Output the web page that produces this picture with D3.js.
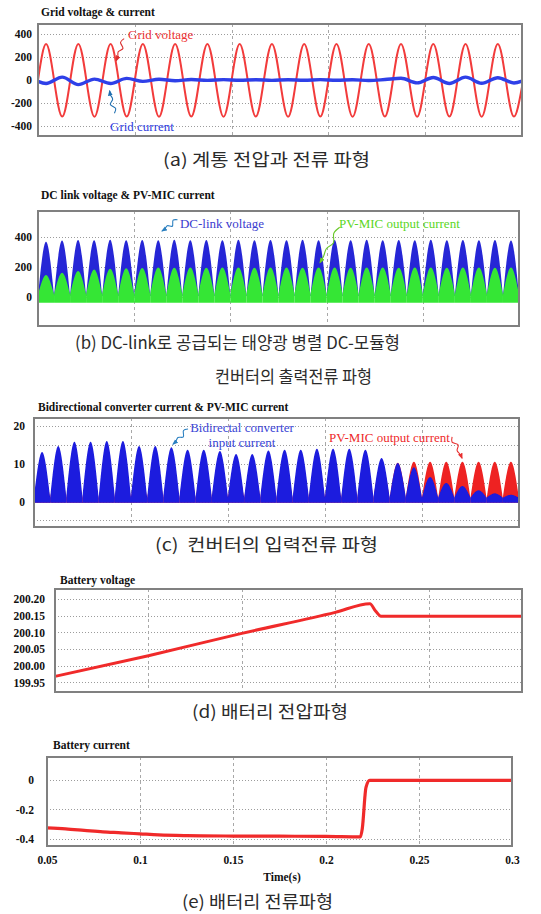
<!DOCTYPE html>
<html>
<head>
<meta charset="utf-8">
<script src="https://cdn.jsdelivr.net/npm/d3@7"></script>
<style>
  body { margin: 0; background: #fff; }
  svg { display: block; }
  .title { font-family: "Liberation Serif", "Times New Roman", serif; font-weight: bold; font-size: 11.5px; fill: #111; }
  .tick text { font-family: "Liberation Serif", "Times New Roman", serif; font-weight: bold; font-size: 11.5px; fill: #111; }
  .cap { font-family: "Noto Sans CJK KR", sans-serif; font-size: 17px; fill: #2b2b2b; }
  .note { font-family: "Liberation Serif", "Times New Roman", serif; font-size: 13px; }
</style>
</head>
<body>
<svg id="chart" width="541" height="914"></svg>
<script>
// ---------------- data ----------------
const tRange = [0.05, 0.3];
const timeTicks = [0.05, 0.1, 0.15, 0.2, 0.25, 0.3];
const lineFreq = 60;   // grid frequency, Hz

// (a) grid voltage and current: value at each half-cycle extremum, plus the two end values
const gridVoltageExtrema = [312, -318, 314, -320, 313, -318, 314, -320, 312, -318,
                            314, -320, 313, -318, 314, -320, 312, -318, 314, -320,
                            313, -318, 314, -320, 312, -318, 314, -320, 313, -318];
const gridVoltageEnds = [0, -60];
const gridCurrentExtrema = [-30, 25, -40, 8, -30, 14, -12, 6, -6, 4,
                            -3, 3, -2, 2, -3, 2, -2, 3, -2, 2,
                            -4, 4, 15, -25, 22, -30, 25, -28, 20, -26];
const gridCurrentEnds = [-12, -10];
const gridTicks = [400, 200, 0, -200, -400];

// (b) DC-link voltage and PV-MIC output current: peak of each rectified hump
const dcLinkPeaks = [368, 376, 380, 378, 381, 378, 380, 379, 381, 378,
                     380, 379, 381, 378, 380, 379, 381, 378, 380, 379,
                     381, 378, 380, 379, 381, 378, 380, 379, 380, 377];
const dcLinkValley = 6;
const pvMicPeaksB = [147, 162, 173, 184, 188, 191, 194, 196, 195, 196,
                     195, 197, 196, 195, 197, 196, 195, 197, 196, 195,
                     197, 196, 195, 197, 196, 195, 197, 196, 195, 196];
const pvMicValleyB = 15;
const pvMicFloorB = -38;
const dcTicks = [400, 200, 0];

// (c) bidirectional converter input current and PV-MIC output current
const bidirPeaks = [13.1, 14.7, 15.8, 15.8, 16.0, 16.0, 14.7, 14.7, 14.4, 13.7,
                    13.7, 13.4, 12.6, 12.6, 13.5, 13.7, 13.7, 14.0, 14.0, 14.0,
                    13.7, 11.5, 10.2, 9.1, 6.5, 4.9, 4.1, 3.0, 2.2, 1.8];
const bidirValley = 1.0;
const pvMicPeaksC = [10.0, 10.0, 10.0, 10.0, 10.0, 10.0, 10.0, 10.0, 10.0, 10.0,
                     10.0, 10.0, 10.0, 10.0, 10.0, 10.0, 10.0, 10.0, 10.0, 10.0,
                     10.0, 10.0, 10.3, 10.5, 10.5, 10.5, 10.5, 10.5, 10.5, 10.5];
const pvMicValleyC = 0.8;
const convFloor = -0.3;
const convTicks = [20, 10, 0];
const convGrid = [20, 15, 10, 5, 0, -5];

// (d) battery voltage
const battVoltT = [0.05, 0.1, 0.15, 0.2, 0.2186, 0.2215, 0.2245, 0.3];
const battVoltV = [199.968, 200.030, 200.097, 200.160, 200.186, 200.165, 200.148, 200.148];
const battVoltTicks = [200.20, 200.15, 200.10, 200.05, 200.00, 199.95];

// (e) battery current
const battCurT = [0.05, 0.06, 0.07, 0.08, 0.09, 0.1, 0.11, 0.125, 0.15, 0.175, 0.2, 0.2185, 0.2195, 0.2215, 0.2235, 0.3];
const battCurV = [-0.325, -0.332, -0.342, -0.352, -0.358, -0.365, -0.372, -0.377, -0.380, -0.381, -0.382, -0.385, -0.33, -0.05, -0.003, -0.003];
const battCurTicks = [0, -0.2, -0.4];

// ---------------- drawing ----------------
const svg = d3.select("#chart");
const defs = svg.append("defs");
defs.append("filter").attr("id", "soft").attr("x", "-5%").attr("y", "-5%").attr("width", "110%").attr("height", "110%")
  .append("feGaussianBlur").attr("stdDeviation", 0.5);
defs.append("filter").attr("id", "soft2").attr("x", "-5%").attr("y", "-20%").attr("width", "110%").attr("height", "140%")
  .append("feGaussianBlur").attr("stdDeviation", 0.6);

let clipCount = 0;
function makePanel(cfg) {
  const x = d3.scaleLinear().domain(tRange).range([cfg.l, cfg.r]);
  const y = d3.scaleLinear().domain(cfg.yDomain).range([cfg.b, cfg.t]);
  const g = svg.append("g");
  const id = "clip" + (clipCount++);
  defs.append("clipPath").attr("id", id).append("rect")
    .attr("x", cfg.l).attr("y", cfg.t).attr("width", cfg.r - cfg.l).attr("height", cfg.b - cfg.t);

  const grid = g.append("g");
  grid.selectAll("line.h").data(cfg.hGrid).join("line").attr("class", "h")
    .attr("x1", cfg.l).attr("x2", cfg.r)
    .attr("y1", d => Math.round(y(d)) + 0.5).attr("y2", d => Math.round(y(d)) + 0.5)
    .attr("stroke", "#9c9c9c").attr("stroke-width", 1).attr("stroke-dasharray", "1,2");
  grid.selectAll("line.v").data(timeTicks.slice(1, -1)).join("line").attr("class", "v")
    .attr("x1", d => Math.round(x(d)) + 0.5).attr("x2", d => Math.round(x(d)) + 0.5)
    .attr("y1", cfg.t).attr("y2", cfg.b)
    .attr("stroke", "#a8a8a8").attr("stroke-width", 1).attr("stroke-dasharray", "3,3");

  const plot = g.append("g").attr("clip-path", `url(#${id})`);
  g.append("rect")
    .attr("x", cfg.l).attr("y", cfg.t).attr("width", cfg.r - cfg.l).attr("height", cfg.b - cfg.t)
    .attr("fill", "none").attr("stroke", "#808080").attr("stroke-width", 2);

  const ax = g.append("g").attr("transform", `translate(${cfg.l},0)`)
    .call(d3.axisLeft(y).tickValues(cfg.ticks).tickSize(0).tickPadding(cfg.pad).tickFormat(cfg.fmt || (d => String(d))))
    .call(a => a.select(".domain").remove());
  ax.attr("font-family", null).attr("font-size", null);

  g.append("text").attr("class", "title").attr("x", cfg.titleX).attr("y", cfg.titleY).text(cfg.title);
  const notes = g.append("g");
  return { x, y, plot, notes };
}

// half-cycle extremum points of a 60 Hz waveform
function extremaPoints(vals, ends) {
  const pts = [[tRange[0], ends[0]]];
  vals.forEach((v, k) => pts.push([tRange[0] + (k + 0.5) / (2 * lineFreq), v]));
  pts.push([tRange[1], ends[1]]);
  return pts;
}
// one rectified hump per half cycle
function humps(peaks, valley) {
  return peaks.map((p, k) => [
    [tRange[0] + k / (2 * lineFreq), valley],
    [tRange[0] + (k + 0.5) / (2 * lineFreq), p],
    [tRange[0] + (k + 1) / (2 * lineFreq), valley]
  ]);
}

// arrowhead marker per colour
function marker(color) {
  const id = "arrow" + color.replace("#", "");
  if (defs.select("#" + id).empty()) {
    defs.append("marker").attr("id", id).attr("viewBox", "0 0 10 10")
      .attr("refX", 8).attr("refY", 5).attr("markerWidth", 6).attr("markerHeight", 6)
      .attr("orient", "auto").attr("markerUnits", "userSpaceOnUse")
      .append("path").attr("d", "M0,1 L10,5 L0,9 Z").attr("fill", color);
  }
  return `url(#${id})`;
}
// wavy leader line from label to curve
function squiggle(p, tail, head, color) {
  const x0 = p.x(tail[0]), y0 = p.y(tail[1]), x1 = p.x(head[0]), y1 = p.y(head[1]);
  const dx = x1 - x0, dy = y1 - y0, len = Math.hypot(dx, dy);
  const nx = -dy / len, ny = dx / len;
  const offs = [0, 2.2, -2.2, 1.2, 0, 0];
  const fr = [0, 0.2, 0.42, 0.62, 0.82, 1];
  const pts = fr.map((f, i) => [x0 + dx * f + nx * offs[i], y0 + dy * f + ny * offs[i]]);
  p.notes.append("path").attr("d", d3.line().curve(d3.curveCatmullRom)(pts))
    .attr("fill", "none").attr("stroke", color).attr("stroke-width", 1.1)
    .attr("marker-end", marker(color));
}
function note(p, t, v, lines, color, anchor) {
  const tx = p.notes.append("text").attr("class", "note").attr("fill", color)
    .attr("text-anchor", anchor || "start")
    .attr("x", p.x(t)).attr("y", p.y(v));
  lines.forEach((s, i) => tx.append("tspan").attr("x", p.x(t)).attr("dy", i === 0 ? "0.35em" : "1.15em").text(s));
}

// ---- (a) grid voltage & current ----
const pa = makePanel({ l: 38, r: 522, t: 24, b: 136, yDomain: [-487, 487], ticks: gridTicks, pad: 6,
  hGrid: [400, 200, -200, -400], title: "Grid voltage & current", titleX: 41, titleY: 16 });
const lineA = d3.line().x(d => pa.x(d[0])).y(d => pa.y(d[1])).curve(d3.curveMonotoneX);
pa.plot.append("path").datum(extremaPoints(gridVoltageExtrema, gridVoltageEnds))
  .attr("d", lineA).attr("fill", "none").attr("stroke", "#f23b3b").attr("stroke-width", 2).attr("filter", "url(#soft)");
pa.plot.append("path").datum(extremaPoints(gridCurrentExtrema, gridCurrentEnds))
  .attr("d", lineA).attr("fill", "none").attr("stroke", "#2f3fe8").attr("stroke-width", 3.4).attr("filter", "url(#soft2)");
note(pa, 0.0965, 400, ["Grid voltage"], "#ee3535");
squiggle(pa, [0.0945, 360], [0.0905, 170], "#d92f2f");
note(pa, 0.0872, -400, ["Grid current"], "#3040e0");
squiggle(pa, [0.0895, -290], [0.0870, -95], "#1f6fb0");

// ---- (b) DC link voltage & PV-MIC current ----
const pb = makePanel({ l: 38, r: 519, t: 211, b: 326, yDomain: [-193, 573], ticks: dcTicks, pad: 6,
  hGrid: [400, 200, 0], title: "DC link voltage & PV-MIC current", titleX: 41, titleY: 199 });
const areaB = floor => d3.area().x(d => pb.x(d[0])).y0(pb.y(floor)).y1(d => pb.y(d[1])).curve(d3.curveNatural);
pb.plot.append("g").attr("filter", "url(#soft)").selectAll("path").data(humps(dcLinkPeaks, dcLinkValley)).join("path")
  .attr("d", areaB(dcLinkValley)).attr("fill", "#2727d6");
pb.plot.append("g").attr("filter", "url(#soft)").selectAll("path").data(humps(pvMicPeaksB, pvMicValleyB)).join("path")
  .attr("d", areaB(pvMicFloorB)).attr("fill", "#36e636");
note(pb, 0.1238, 493, ["DC-link voltage"], "#3b3bcf");
squiggle(pb, [0.1225, 515], [0.1145, 440], "#2a7fbf");
note(pb, 0.2064, 493, ["PV-MIC output current"], "#5ad61e");
squiggle(pb, [0.2068, 465], [0.1966, 230], "#6ac92a");

// ---- (c) bidirectional converter current & PV-MIC current ----
const pc = makePanel({ l: 34, r: 519, t: 418, b: 527, yDomain: [-6.75, 22.12], ticks: convTicks, pad: 9,
  hGrid: convGrid, title: "Bidirectional converter current & PV-MIC current", titleX: 38, titleY: 411 });
const areaC = d3.area().x(d => pc.x(d[0])).y0(pc.y(convFloor)).y1(d => pc.y(d[1])).curve(d3.curveNatural);
pc.plot.append("g").attr("filter", "url(#soft)").selectAll("path").data(humps(pvMicPeaksC, pvMicValleyC)).join("path")
  .attr("d", areaC).attr("fill", "#ee2020");
pc.plot.append("g").attr("filter", "url(#soft)").selectAll("path").data(humps(bidirPeaks, bidirValley)).join("path")
  .attr("d", areaC).attr("fill", "#1a1ade");
note(pc, 0.1572, 19.7, ["Bidirectal converter", "input current"], "#3a46d6", "middle");
squiggle(pc, [0.1294, 19.2], [0.1217, 15.2], "#2a7fc0");
note(pc, 0.2021, 17.1, ["PV-MIC output current"], "#ee2a2a");
squiggle(pc, [0.2655, 17.1], [0.2706, 11.5], "#e83030");

// ---- (d) battery voltage ----
const pd = makePanel({ l: 55, r: 522, t: 589, b: 692, yDomain: [199.9211, 200.2301], ticks: battVoltTicks, pad: 10,
  hGrid: battVoltTicks, fmt: d3.format(".2f"), title: "Battery voltage", titleX: 60, titleY: 584 });
pd.plot.append("path").datum(battVoltT.map((t, i) => [t, battVoltV[i]]))
  .attr("d", d3.line().x(d => pd.x(d[0])).y(d => pd.y(d[1])).curve(d3.curveMonotoneX))
  .attr("fill", "none").attr("stroke", "#f02a2a").attr("stroke-width", 3).attr("filter", "url(#soft)");

// ---- (e) battery current ----
const pe = makePanel({ l: 47, r: 512, t: 757, b: 846, yDomain: [-0.4475, 0.1559], ticks: battCurTicks, pad: 13,
  hGrid: battCurTicks, title: "Battery current", titleX: 53, titleY: 749 });
pe.plot.append("path").datum(battCurT.map((t, i) => [t, battCurV[i]]))
  .attr("d", d3.line().x(d => pe.x(d[0])).y(d => pe.y(d[1])).curve(d3.curveMonotoneX))
  .attr("fill", "none").attr("stroke", "#f02a2a").attr("stroke-width", 3.2).attr("filter", "url(#soft)");
const xa = svg.append("g").attr("transform", "translate(0,846)")
  .call(d3.axisBottom(pe.x).tickValues(timeTicks).tickSize(0).tickPadding(10).tickFormat(d => String(d)))
  .call(a => a.select(".domain").remove());
xa.attr("font-family", null).attr("font-size", null);
svg.append("text").attr("class", "title").attr("x", 282).attr("y", 881).attr("text-anchor", "middle").text("Time(s)");

// ---- captions ----
const captions = [
  { text: "(a) 계통 전압과 전류 파형", x: 163, y: 166, w: 207 },
  { text: "(b) DC-link로 공급되는 태양광 병렬 DC-모듈형", x: 75, y: 349, w: 325 },
  { text: "컨버터의 출력전류 파형", x: 215, y: 383, w: 157 },
  { text: "(c)  컨버터의 입력전류 파형", x: 155, y: 551, w: 223 },
  { text: "(d) 배터리 전압파형", x: 192, y: 718, w: 156 },
  { text: "(e) 배터리 전류파형", x: 182, y: 908, w: 151 }
];
svg.append("g").selectAll("text").data(captions).join("text").attr("class", "cap")
  .attr("x", d => d.x).attr("y", d => d.y).attr("xml:space", "preserve")
  .attr("textLength", d => d.w).attr("lengthAdjust", "spacingAndGlyphs")
  .text(d => d.text);
</script>
</body>
</html>
